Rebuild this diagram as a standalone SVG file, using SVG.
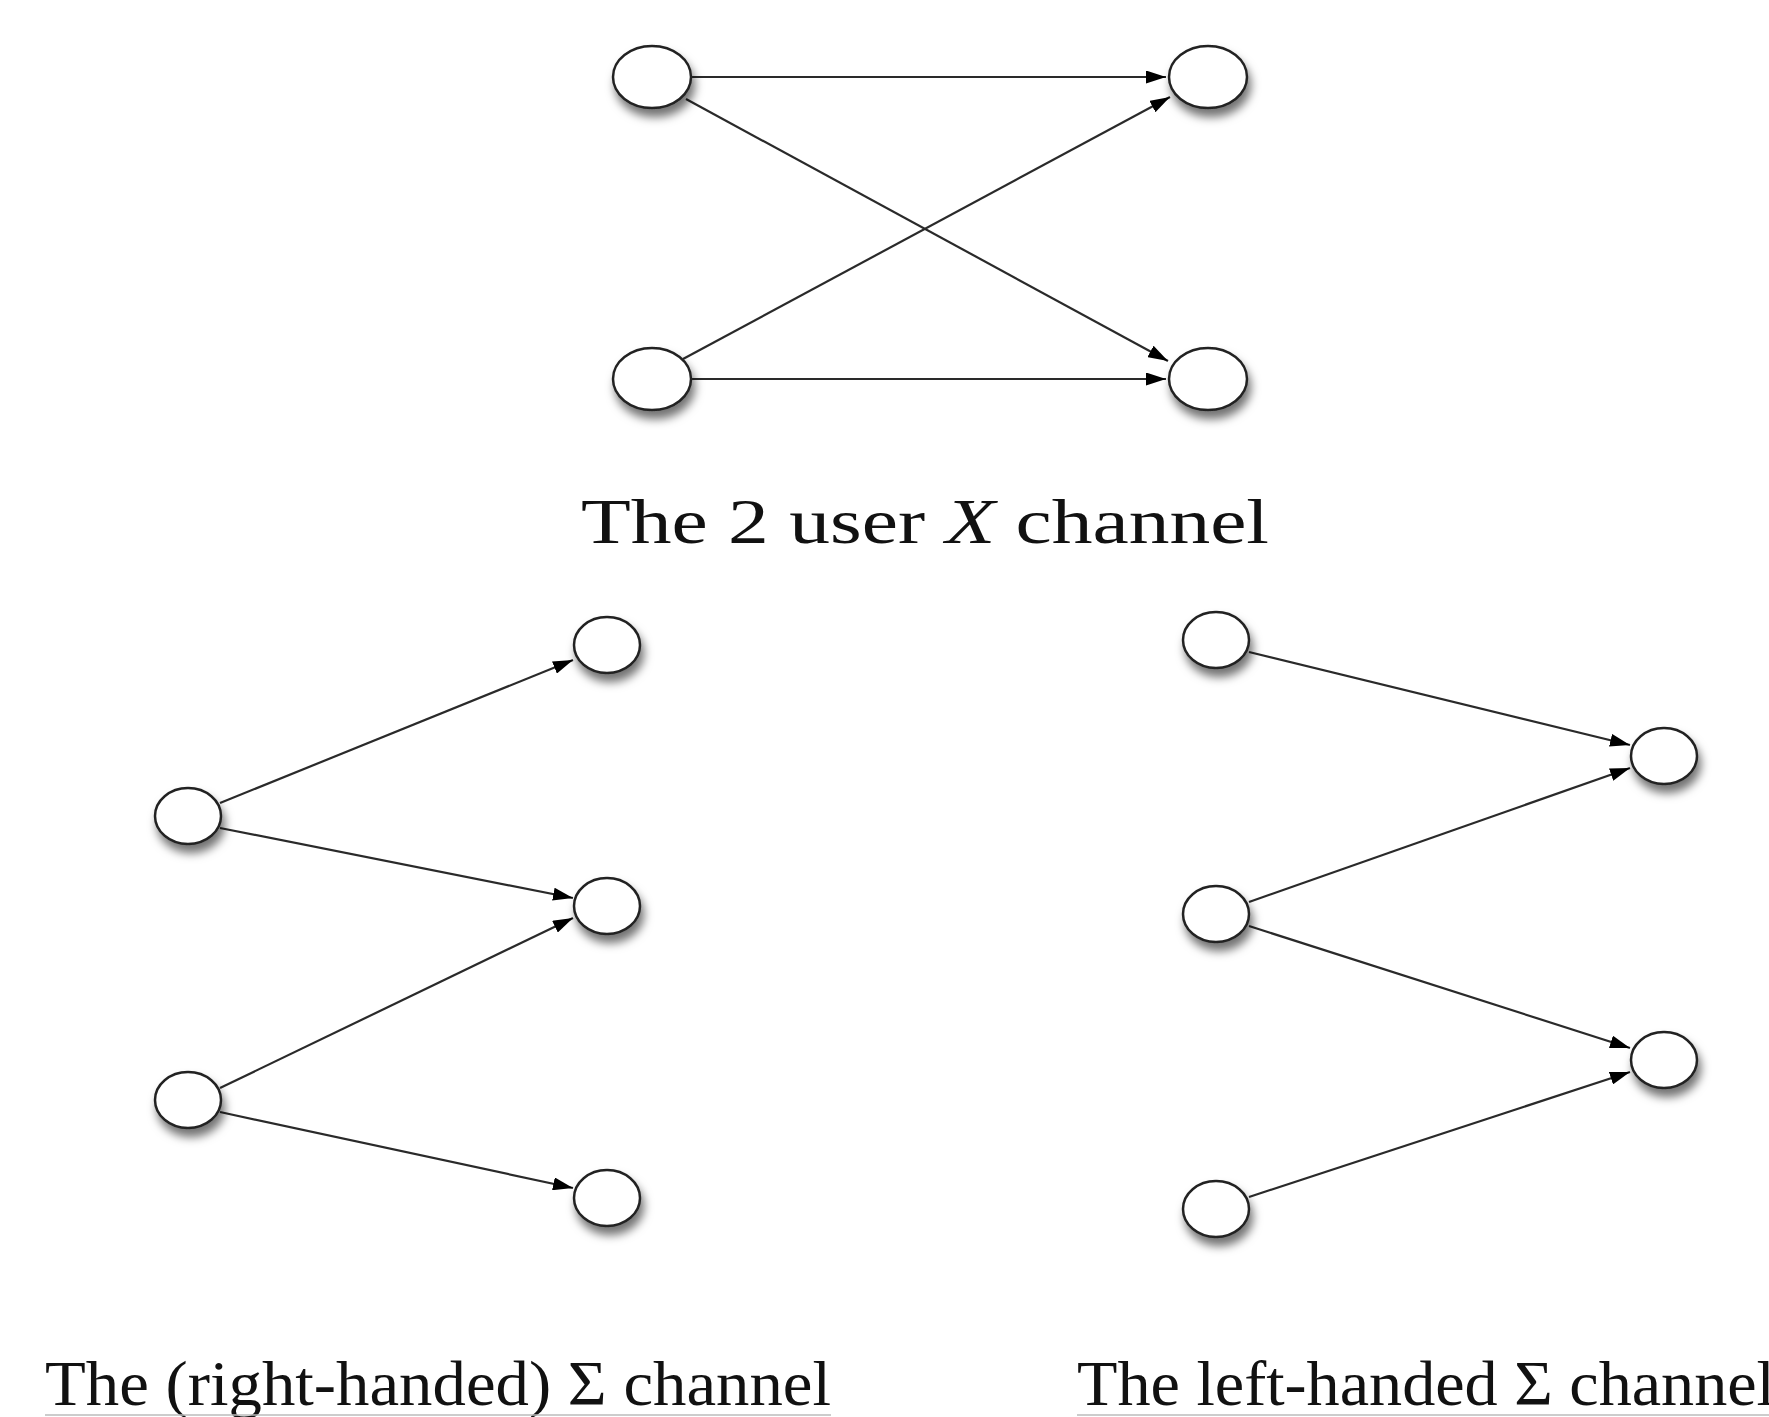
<svg xmlns="http://www.w3.org/2000/svg" width="1769" height="1417" viewBox="0 0 1769 1417">
<defs>
<filter id="sh" x="-50%" y="-50%" width="200%" height="220%">
<feDropShadow dx="3" dy="8" stdDeviation="5" flood-color="#000" flood-opacity="0.55"/>
</filter>
<marker id="ah" markerUnits="userSpaceOnUse" markerWidth="20" markerHeight="13" viewBox="0 0 20 13" refX="20" refY="6.5" orient="auto">
<path d="M0,0 L20,6.5 L0,13 z" fill="#000"/>
</marker>
</defs>
<style>
.n{fill:#fff;stroke:#222;stroke-width:2.5;filter:url(#sh)}
.e{stroke:#2a2a2a;stroke-width:2.2;fill:none;marker-end:url(#ah)}
.t{font-family:"Liberation Serif","Times New Roman",serif;font-size:64px;fill:#111}
.ul{stroke:#bbb;stroke-width:1.5}
</style>
<rect width="1769" height="1417" fill="#fff"/>
<g id="connectors">
<line class="e" x1="692" y1="77" x2="1166" y2="77"/>
<line class="e" x1="686" y1="99" x2="1168" y2="361"/>
<line class="e" x1="683" y1="359" x2="1170" y2="97"/>
<line class="e" x1="692" y1="379" x2="1166" y2="379"/>
<line class="e" x1="220" y1="803" x2="573" y2="660"/>
<line class="e" x1="220" y1="828" x2="573" y2="898"/>
<line class="e" x1="220" y1="1088" x2="573" y2="918"/>
<line class="e" x1="220" y1="1112" x2="573" y2="1188"/>
<line class="e" x1="1249" y1="652" x2="1630" y2="745"/>
<line class="e" x1="1249" y1="902" x2="1630" y2="768"/>
<line class="e" x1="1249" y1="926" x2="1630" y2="1048"/>
<line class="e" x1="1249" y1="1197" x2="1630" y2="1072"/>
</g>
<g id="x-tx1"><ellipse class="n" cx="652" cy="77" rx="39" ry="31"/></g>
<g id="x-tx2"><ellipse class="n" cx="652" cy="379" rx="39" ry="31"/></g>
<g id="x-rx1"><ellipse class="n" cx="1208" cy="77" rx="39" ry="31"/></g>
<g id="x-rx2"><ellipse class="n" cx="1208" cy="379" rx="39" ry="31"/></g>
<g id="r-s1"><ellipse class="n" cx="188" cy="816" rx="33" ry="28"/></g>
<g id="r-s2"><ellipse class="n" cx="188" cy="1100" rx="33" ry="28"/></g>
<g id="r-t1"><ellipse class="n" cx="607" cy="645" rx="33" ry="28"/></g>
<g id="r-t2"><ellipse class="n" cx="607" cy="906" rx="33" ry="28"/></g>
<g id="r-t3"><ellipse class="n" cx="607" cy="1198" rx="33" ry="28"/></g>
<g id="l-s1"><ellipse class="n" cx="1216" cy="640" rx="33" ry="28"/></g>
<g id="l-s2"><ellipse class="n" cx="1216" cy="914" rx="33" ry="28"/></g>
<g id="l-s3"><ellipse class="n" cx="1216" cy="1209" rx="33" ry="28"/></g>
<g id="l-t1"><ellipse class="n" cx="1664" cy="756" rx="33" ry="28"/></g>
<g id="l-t2"><ellipse class="n" cx="1664" cy="1060" rx="33" ry="28"/></g>
<g id="labels">
<text class="t" x="581" y="543" textLength="688" lengthAdjust="spacingAndGlyphs">The 2 user <tspan font-style="italic">X</tspan> channel</text>
<text class="t" x="45" y="1405" textLength="786" lengthAdjust="spacingAndGlyphs">The (right-handed) Σ channel</text>
<text class="t" x="1077" y="1405" textLength="698" lengthAdjust="spacingAndGlyphs">The left-handed Σ channel</text>
<line class="ul" x1="45" y1="1415" x2="831" y2="1415"/>
<line class="ul" x1="1077" y1="1415" x2="1769" y2="1415"/>
</g>
</svg>
